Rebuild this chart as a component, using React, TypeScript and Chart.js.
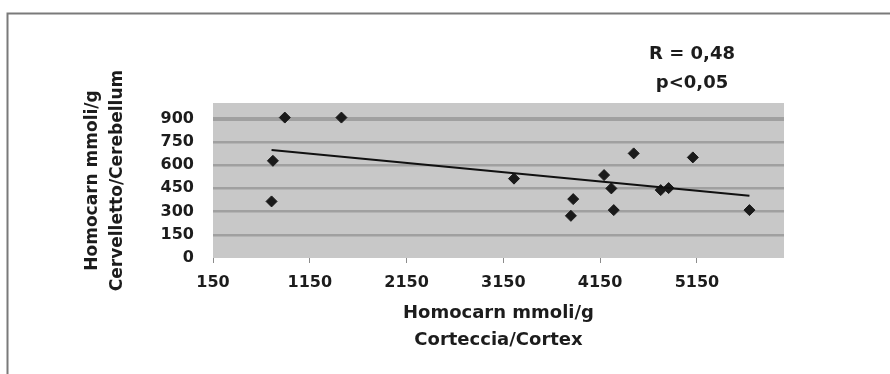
import React, { useEffect, useRef } from "react";
import { Chart, registerables } from "chart.js";

Chart.register(...registerables);

// Data
const xValues = [892, 1477, 769, 755, 3260, 3872, 3848, 4191, 4266, 4291, 4497, 4776, 4858, 5108, 5693];
const yValues = [906, 906, 627, 365, 512, 380, 272, 535, 449, 309, 675, 438, 451, 649, 309];
const trendX = [755, 5693];
const trendY = [696, 401];
const xTicks = [150, 1150, 2150, 3150, 4150, 5150];
const yTicks = [0, 150, 300, 450, 600, 750, 900];
const xTitle = ["Homocarn mmoli/g", "Corteccia/Cortex"];
const yTitle = ["Homocarn mmoli/g", "Cervelletto/Cerebellum"];
const annotation = ["R = 0,48", "p<0,05"];

const FONT = "'DejaVu Sans', 'Liberation Sans', Arial, sans-serif";
const TEXT = "#1c1c1c";

const framePlugin = {
  id: "frameAndBg",
  beforeDraw(chart: any) {
    const { ctx, chartArea } = chart;
    ctx.save();
    ctx.fillStyle = "#ffffff";
    ctx.fillRect(0, 0, chart.width, chart.height);
    ctx.strokeStyle = "#7a7a7a";
    ctx.lineWidth = 2;
    ctx.beginPath();
    ctx.moveTo(7.5, chart.height);
    ctx.lineTo(7.5, 13.5);
    ctx.lineTo(chart.width, 13.5);
    ctx.stroke();
    ctx.fillStyle = "#c8c8c8";
    ctx.fillRect(chartArea.left, chartArea.top, chartArea.right - chartArea.left, chartArea.bottom - chartArea.top);
    ctx.restore();
  },
  afterDraw(chart: any) {
    const { ctx } = chart;
    ctx.save();
    ctx.fillStyle = TEXT;
    ctx.font = `bold 18px ${FONT}`;
    ctx.textAlign = "center";
    ctx.textBaseline = "alphabetic";
    ctx.fillText(annotation[0], 692, 59);
    ctx.fillText(annotation[1], 692, 88);
    ctx.restore();
  },
};

export default function App() {
  const ref = useRef<HTMLCanvasElement | null>(null);
  useEffect(() => {
    if (!ref.current) return;
    const points = xValues.map((x, i) => ({ x, y: yValues[i] }));
    const trend = trendX.map((x, i) => ({ x, y: trendY[i] }));
    const chart = new Chart(ref.current, {
      type: "scatter",
      data: {
        datasets: [
          {
            data: trend,
            showLine: true,
            borderColor: "#111111",
            borderWidth: 2,
            pointRadius: 0,
            fill: false,
          },
          {
            data: points,
            pointStyle: "rectRot",
            pointRadius: 5.5,
            borderWidth: 1,
            backgroundColor: "#1a1a1a",
            borderColor: "#1a1a1a",
          },
        ],
      } as any,
      options: {
        responsive: false,
        animation: false,
        layout: { padding: { left: 80, top: 103, right: 106, bottom: 20 } },
        plugins: { legend: { display: false }, tooltip: { enabled: false }, title: { display: false } },
        scales: {
          x: {
            type: "linear",
            position: "bottom",
            min: 150,
            max: 6050,
            afterBuildTicks: (s: any) => {
              s.ticks = xTicks.map((v) => ({ value: v }));
            },
            afterFit: (s: any) => {
              s.height = 96;
            },
            border: { display: false },
            grid: { drawOnChartArea: false, drawTicks: true, tickLength: 5, color: "#8c8c8c", lineWidth: 1 },
            ticks: {
              color: TEXT,
              padding: 10,
              maxRotation: 0,
              autoSkip: false,
              font: { family: FONT, weight: "bold", size: 16 },
              callback: (v: any) => String(v),
            },
            title: {
              display: true,
              text: xTitle,
              color: TEXT,
              padding: 0,
              font: { family: FONT, weight: "bold", size: 18, lineHeight: 1.5 },
            },
          },
          y: {
            type: "linear",
            position: "left",
            min: 0,
            max: 1000,
            afterBuildTicks: (s: any) => {
              s.ticks = yTicks.map((v) => ({ value: v }));
            },
            afterFit: (s: any) => {
              s.width = 133;
            },
            border: { display: false },
            grid: {
              drawTicks: false,
              color: (c: any) => (c.tick && c.tick.value === 0 ? "rgba(0,0,0,0)" : "#a0a0a0"),
              lineWidth: (c: any) => (c.tick && c.tick.value === 900 ? 4 : 2.5),
            },
            ticks: {
              color: TEXT,
              padding: 19,
              autoSkip: false,
              font: { family: FONT, weight: "bold", size: 16 },
              callback: (v: any) => String(v),
            },
            title: {
              display: true,
              text: yTitle,
              color: TEXT,
              padding: 0,
              font: { family: FONT, weight: "bold", size: 17, lineHeight: 25 / 17 },
            },
          },
        },
      } as any,
      plugins: [framePlugin],
    });
    return () => chart.destroy();
  }, []);
  return (
    <div style={{ position: "absolute", left: 0, top: 0, width: 890, height: 374 }}>
      <canvas ref={ref} width={890} height={374} style={{ display: "block" }} />
    </div>
  );
}
